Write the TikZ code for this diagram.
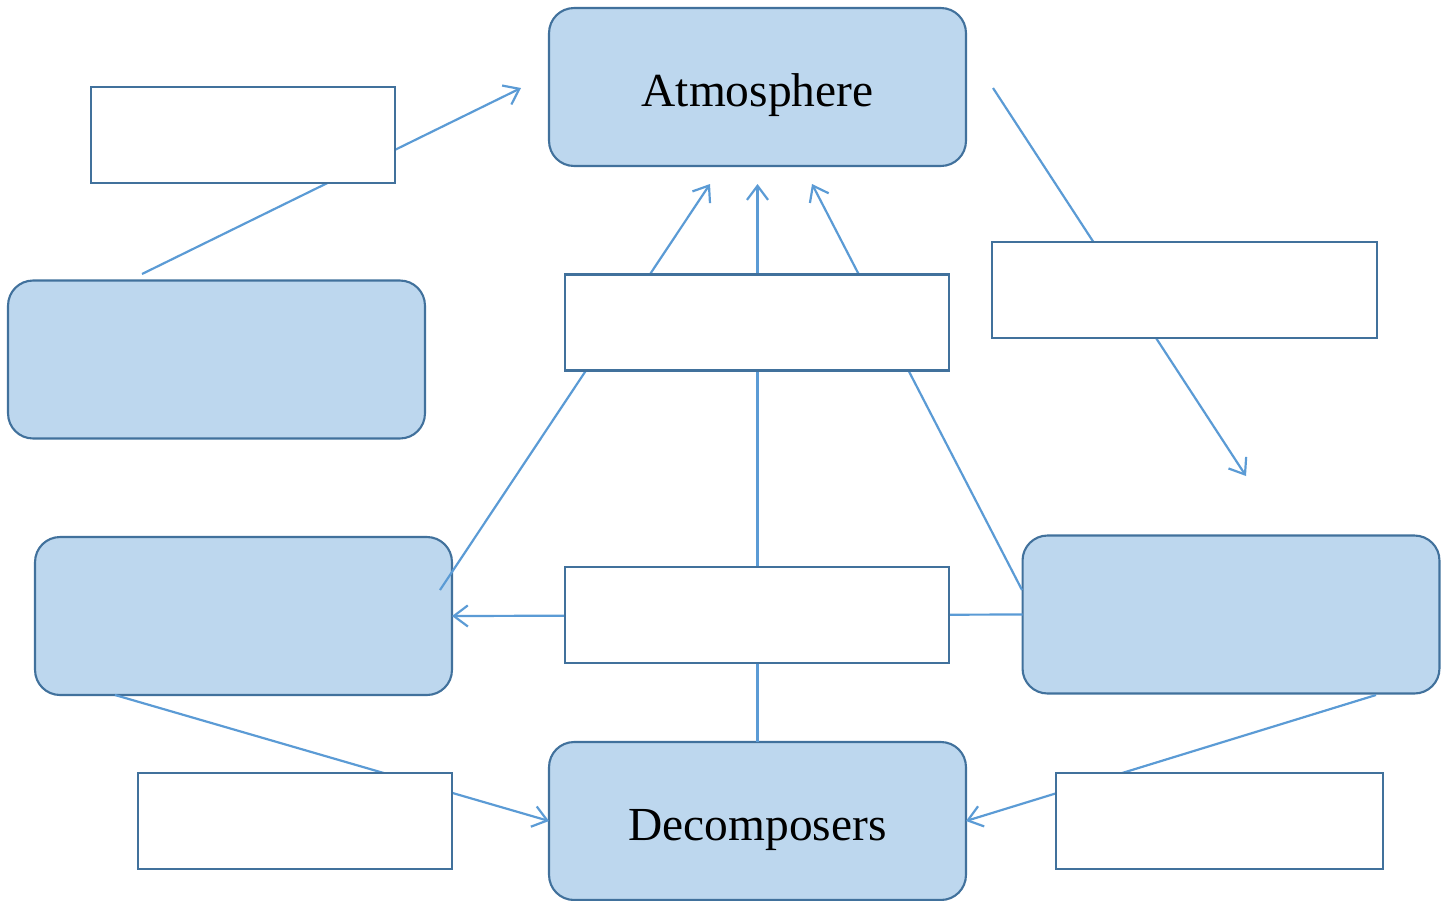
\documentclass[tikz,border=0pt]{standalone}
\usepackage{fontspec}
\setmainfont{Liberation Serif}
\usetikzlibrary{arrows.meta}
\pgfdeclarelayer{boxes}
\pgfdeclarelayer{links}
\pgfsetlayers{boxes,links,main}

\begin{document}
\begin{tikzpicture}[x=0.02cm,y=-0.02cm,
  bluebox/.style={draw=boxline,fill=boxfill,line width=1.2pt,rounded corners=0.5cm,
    minimum width=8.34cm,minimum height=3.16cm,inner sep=0pt,outer sep=0pt,
    text height=22pt,text depth=0pt,font=\fontsize{27}{32}\selectfont},
  whitebox/.style={draw=boxline,fill=white,line width=1.2pt,minimum height=1.92cm,
    inner sep=0pt,outer sep=0pt},
  link/.style={draw=linkblue,line width=1.25pt},
  arrow/.style={link,-{Straight Barb[length=8pt,width=12pt]}}]
\definecolor{boxfill}{HTML}{BDD7EE}
\definecolor{boxline}{HTML}{41719C}
\definecolor{linkblue}{HTML}{5B9BD5}
\useasboundingbox (0,0) rectangle (1450,900);

\begin{pgfonlayer}{boxes}
  \node [bluebox] (atmos) at (757.5,87) {Atmosphere};
  \node [bluebox] (decomp) at (757.5,821) {Decomposers};
  \node [bluebox] (lbox1) at (216.5,359.5) {};
  \node [bluebox] (lbox2) at (243.5,616) {};
  \node [bluebox] (rbox) at (1231,614.5) {};
\end{pgfonlayer}

% empty label boxes
\node [whitebox,minimum width=6.08cm] (topleft) at (243,135) {};
\node [whitebox,minimum width=7.68cm] (midtop) at (757,322.5) {};
\node [whitebox,minimum width=7.7cm] (topright) at (1184.5,290) {};
\node [whitebox,minimum width=7.68cm] (midlow) at (757,615) {};
\node [whitebox,minimum width=6.28cm] (lowleft) at (295,821) {};
\node [whitebox,minimum width=6.54cm] (lowright) at (1219.5,821) {};

% free ends of the links
\coordinate (lbox1top) at (142,274);
\coordinate (atmosleft) at (521,88);
\coordinate (atmosright) at (993,88);
\coordinate (rboxtop) at (1246,476);
\coordinate (lbox2in) at (440,590);
\coordinate (rboxin) at (1022,590);
\coordinate (upA) at (710,184);
\coordinate (upB) at (757.5,184);
\coordinate (upC) at (812,184);
\coordinate (lbox2low) at (115,695);
\coordinate (rboxlow) at (1376,695);

\begin{pgfonlayer}{links}
  \draw [arrow] (lbox1top) -- (atmosleft);
  \draw [arrow] (atmosright) -- (rboxtop);
  \draw [arrow] (lbox2in) -- (upA);
  \draw [arrow] (decomp.north) -- (upB);
  \draw [arrow] (rboxin) -- (upC);
  \draw [arrow] (rbox.west) -- (lbox2.east);
  \draw [arrow] (lbox2low) -- (decomp.west);
  \draw [arrow] (rboxlow) -- (decomp.east);
\end{pgfonlayer}
\end{tikzpicture}
\end{document}
